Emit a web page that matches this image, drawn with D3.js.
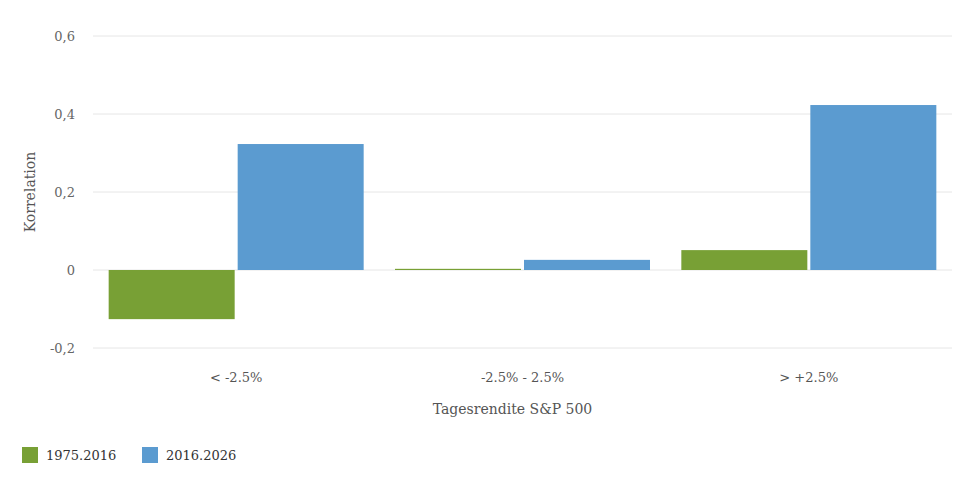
<!DOCTYPE html>
<html><head><meta charset="utf-8">
<script src="https://cdn.jsdelivr.net/npm/d3@7"></script>
<style>body{margin:0;background:#fff}text{font-family:"DejaVu Serif",serif}</style>
</head><body><svg id="chart" width="964" height="480"></svg>
<script>
const categories = ['< -2.5%', '-2.5% - 2.5%', '> +2.5%'];
const seriesNames = ['1975.2016', '2016.2026'];
const values1975 = [-0.126, 0.003, 0.051];
const values2016 = [0.323, 0.026, 0.423];
const yTicks = [-0.2, 0, 0.2, 0.4, 0.6];
const colors = ['#78a035', '#5b9bd0'];

const svg = d3.select('#chart');
const plotLeft = 93, plotRight = 952, plotTop = 36, plotBottom = 348;
const x = d3.scaleBand().domain(categories).range([plotLeft, plotRight]);
const y = d3.scaleLinear().domain([-0.2, 0.6]).range([plotBottom, plotTop]);
const fmt = d => d3.format('.1f')(d).replace('.', ',').replace('−', '-');

svg.append('g').selectAll('line').data(yTicks).join('line')
  .attr('x1', plotLeft).attr('x2', plotRight).attr('y1', d => y(d)).attr('y2', d => y(d))
  .attr('stroke', '#e6e6e6');
svg.append('g').selectAll('text').data(yTicks).join('text')
  .attr('x', 75).attr('y', d => y(d) + 5).attr('text-anchor', 'end')
  .attr('font-size', 13).attr('fill', '#666').text(d => d === 0 ? '0' : fmt(d));

const series = [values1975, values2016];
const bw = 126, gap = 3, pad = (x.bandwidth() - 2 * bw - gap) / 2;
series.forEach((vals, s) => {
  svg.append('g').selectAll('rect').data(vals).join('rect')
    .attr('x', (d, i) => x(categories[i]) + pad + s * (bw + gap))
    .attr('width', bw)
    .attr('y', d => y(Math.max(0, d)))
    .attr('height', d => Math.abs(y(d) - y(0)))
    .attr('fill', colors[s]);
});

svg.append('g').selectAll('text').data(categories).join('text')
  .attr('x', d => x(d) + x.bandwidth() / 2).attr('y', 382).attr('text-anchor', 'middle')
  .attr('font-size', 13).attr('fill', '#555').text(d => d);

svg.append('text').attr('x', (plotLeft + plotRight) / 2 - 10).attr('y', 414).attr('text-anchor', 'middle')
  .attr('font-size', 14).attr('fill', '#555').text('Tagesrendite S&P 500');
svg.append('text').attr('transform', 'translate(35,192) rotate(-90)').attr('text-anchor', 'middle')
  .attr('font-size', 14).attr('fill', '#555').text('Korrelation');

const lg = svg.append('g').selectAll('g').data(seriesNames).join('g')
  .attr('transform', (d, i) => `translate(${22 + i * 120},447)`);
lg.append('rect').attr('width', 16).attr('height', 16).attr('fill', (d, i) => colors[i]);
lg.append('text').attr('x', 24).attr('y', 13).attr('font-size', 13).attr('fill', '#333').text(d => d);
</script></body></html>
